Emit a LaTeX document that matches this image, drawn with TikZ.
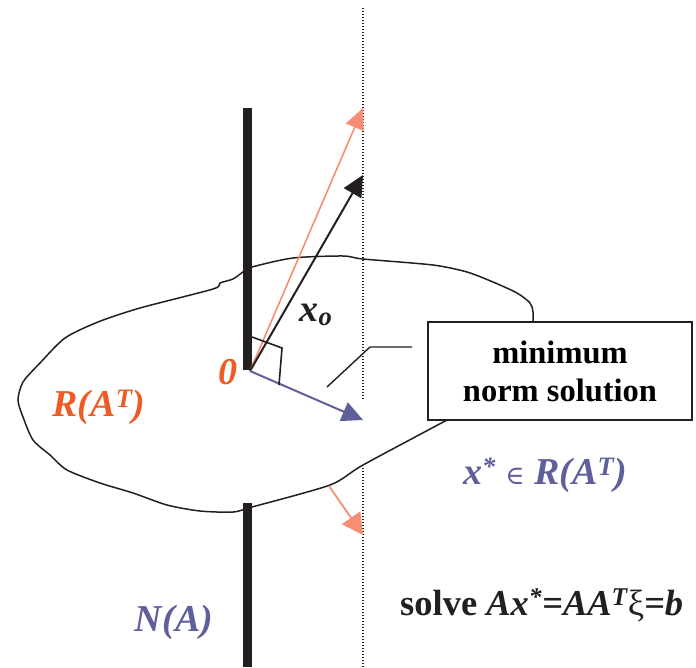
\documentclass[tikz,border=0pt]{standalone}
\usepackage{fontspec}
\setmainfont{Liberation Serif}
\newfontfamily\elemfont{DejaVu Serif}
\usetikzlibrary{arrows.meta}
\definecolor{inkblack}{RGB}{35,31,32}
\definecolor{orangeT}{RGB}{238,92,38}
\definecolor{salmon}{RGB}{246,142,116}
\definecolor{slateblue}{RGB}{95,95,155}
\tikzset{
  bar/.style={line width=9pt, draw=inkblack},
  guide/.style={line width=1.3pt, draw=inkblack, dash pattern=on 1.3pt off 1.7pt},
  vec/.style={-{Triangle[length=21pt,width=20pt]}},
  blob/.style={line width=1.5pt, draw=inkblack},
  lbl/.style={font=\fontsize{38}{42}\selectfont\bfseries\itshape, inner sep=0pt},
  boxnode/.style={draw=inkblack, line width=1.4pt, fill=white, minimum width=264pt, minimum height=98pt, inner sep=0pt, align=center, font=\fontsize{32.5}{38}\selectfont\bfseries}
}
\begin{document}
\begin{tikzpicture}[x=1pt,y=-1pt]
\useasboundingbox (0,0) rectangle (696,667);
% region R(A^T)
\draw[blob] plot[smooth cycle, tension=0.45] coordinates {
 (18,400) (23,382) (40,363) (65,338) (98,322) (140,308) (213,289) (220,283) (233,279) (243,272)
 (252,267) (293,258) (343,256) (363,259) (433,265) (467,272) (493,282) (517,293) (530,303) (533,312)
 (532,330) (520,380) (458,414) (447,420) (363,465) (330,485) (252,507) (233,512) (200,511)
 (167,505) (133,493) (100,483) (67,470) (50,455) (33,440) (23,417)};
% N(A) and R(A^T) axes
\coordinate (bartop) at (247.5,108);
\coordinate (barmid) at (247.5,370);
\coordinate (barlow) at (247.5,503);
\coordinate (barbot) at (247.5,667);
\draw[bar] (bartop) -- (barmid);
\draw[bar] (barlow) -- (barbot);
% dotted solution set
\coordinate (g1) at (363,8);
\coordinate (g2) at (363,400);
\coordinate (g3) at (363,468);
\coordinate (g4) at (363,667);
\draw[guide] (g1) -- (g2);
\draw[guide] (g3) -- (g4);
% vectors
\coordinate (O) at (250,371);
\coordinate (tipS) at (363,108);
\coordinate (tipX) at (363,175);
\coordinate (tipB) at (363,420);
\coordinate (nS) at (329,486);
\coordinate (tipN) at (363,535);
\draw[vec, salmon, line width=1.6pt, -{Triangle[length=21pt,width=19pt]}] (O) -- (tipS);
\draw[vec, inkblack, line width=2pt] (O) -- (tipX);
\draw[vec, slateblue, line width=2pt] (O) -- (tipB);
\draw[vec, salmon, line width=1.8pt, -{Triangle[length=21pt,width=22pt]}] (nS) -- (tipN);
% right angle mark
\coordinate (r1) at (252,337);
\coordinate (r2) at (282,348);
\coordinate (r3) at (279,385);
\draw[inkblack, line width=1.6pt] (r1) -- (r2) -- (r3);
% leader
\coordinate (l1) at (327,387);
\coordinate (l2) at (370,347);
\coordinate (l3) at (412,347);
\draw[inkblack, line width=1.4pt] (l1) -- (l2) -- (l3);
% box
\node[boxnode] (box) at (560,371) {minimum\\norm solution};
% labels
\node[lbl, text=orangeT] (zero) at (228,372) {0};
\node[lbl, text=orangeT] (RAT) at (99,407) {R(A\textsuperscript{T})};
\node[lbl, text=inkblack] (xo) at (316,315) {x\textsubscript{o}};
\node[lbl, text=slateblue] (xstar) at (545,475) {x\textsuperscript{*} {\elemfont\mdseries\upshape\fontsize{26}{28}\selectfont ∈} R(A\textsuperscript{T})};
\node[lbl, text=slateblue] (NA) at (174,622) {N(A)};
\node[lbl, text=inkblack, anchor=base west, font=\fontsize{36.5}{40}\selectfont\bfseries] (solve) at (400,615) {solve \textit{Ax\textsuperscript{*}=AA\textsuperscript{T}}{\normalfont ξ}\textit{=b}};
\end{tikzpicture}
\end{document}
